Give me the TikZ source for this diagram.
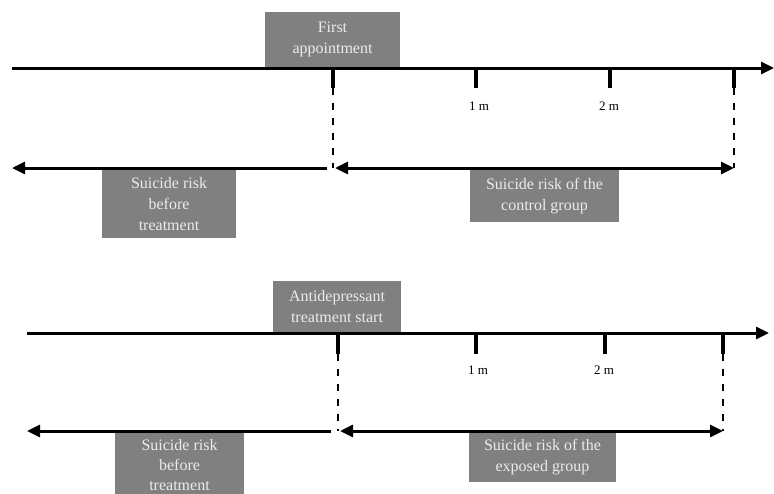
\documentclass[tikz,border=0pt]{standalone}
\usepackage{fontspec}
\setmainfont{Liberation Serif}
\usetikzlibrary{arrows.meta}

\begin{document}
\begin{tikzpicture}
  [x=1pt,y=-1pt,
   axis/.style={line width=3pt,-{Triangle[length=13pt,width=12pt]}},
   tick/.style={line width=4pt},
   guide/.style={line width=2pt,dash pattern=on 7pt off 8pt},
   oneway/.style={line width=3pt,-{Triangle[length=13pt,width=12pt]}},
   twoway/.style={line width=3pt,{Triangle[length=13pt,width=12pt]}-{Triangle[length=13pt,width=12pt]}},
   graybox/.style={rectangle,fill=black!50,text=white!92!black,inner sep=0pt,align=center,
       font=\fontsize{16}{21}\selectfont},
   month/.style={font=\fontsize{13}{15}\selectfont}]
	\useasboundingbox (0,0) rectangle (774,493);
	% control group
	\node (appt) [graybox,minimum width=135pt,minimum height=55pt] at (332.5,39.5) {First\\appointment};
	\node (before1) [graybox,minimum width=134pt,minimum height=68pt] at (169,204) {Suicide risk\\before\\treatment};
	\node (control) [graybox,minimum width=149pt,minimum height=52pt] at (544.5,196) {Suicide risk of the\\control group};
	\coordinate (a1) at (12,68);
	\coordinate (b1) at (774,68);
	\draw [axis] (a1) -- (b1);
	\foreach \x [count=\i] in {333,476,610,734}
		\draw [tick] (\x,67) coordinate (t1\i) -- (\x,88) coordinate (u1\i);
	\node (m11) [month] at (479,106) {1 m};
	\node (m12) [month] at (609,106) {2 m};
	\coordinate (p1) at (12,168);
	\coordinate (q1) at (327,168);
	\coordinate (r1) at (335,168);
	\draw [guide] (u11) -- (u11 |- p1);
	\draw [guide] (u14) -- (u14 |- p1);
	\draw [oneway] (q1) -- (p1);
	\draw [twoway] (r1) -- (u14 |- p1);
	% exposed group
	\node (antidep) [graybox,minimum width=128pt,minimum height=51pt] at (337,306.5) {Antidepressant\\treatment start};
	\node (before2) [graybox,minimum width=129pt,minimum height=66pt,font=\fontsize{16}{20}\selectfont] at (179.5,465) {Suicide risk\\before\\treatment};
	\node (exposed) [graybox,minimum width=147pt,minimum height=50pt] at (542.5,457) {Suicide risk of the\\exposed group};
	\coordinate (a2) at (27,333);
	\coordinate (b2) at (769,333);
	\draw [axis] (a2) -- (b2);
	\foreach \x [count=\i] in {338,476,605,723}
		\draw [tick] (\x,333) coordinate (t2\i) -- (\x,354) coordinate (u2\i);
	\node (m21) [month] at (478,370) {1 m};
	\node (m22) [month] at (604,370) {2 m};
	\coordinate (p2) at (27,431);
	\coordinate (q2) at (331,431);
	\coordinate (r2) at (340,431);
	\draw [guide] (u21) -- (u21 |- p2);
	\draw [guide] (u24) -- (u24 |- p2);
	\draw [oneway] (q2) -- (p2);
	\draw [twoway] (r2) -- (u24 |- p2);
\end{tikzpicture}
\end{document}
